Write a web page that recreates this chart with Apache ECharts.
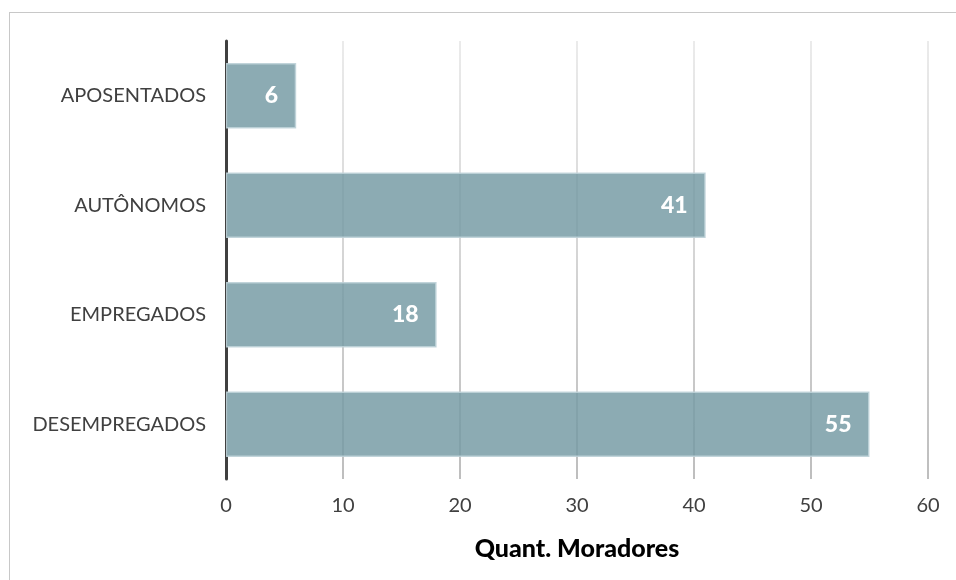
<!DOCTYPE html>
<html><head><meta charset="utf-8">
<script src="https://cdn.jsdelivr.net/npm/echarts@6/dist/echarts.min.js"></script>
<style>html,body{margin:0;padding:0;background:#fff}#c{width:956px;height:580px;position:relative}
#b{position:absolute;left:9px;top:12px;width:1000px;height:1000px;border:1.5px solid #c8c8c8;box-sizing:border-box;pointer-events:none}</style>
</head><body><div id="c"></div><div id="b"></div>
<script>
const categories = ['APOSENTADOS', 'AUTÔNOMOS', 'EMPREGADOS', 'DESEMPREGADOS'];
const values = [6, 41, 18, 55];
const xTicks = [0, 10, 20, 30, 40, 50, 60];
const xTitle = 'Quant. Moradores';

const chart = echarts.init(document.getElementById('c'));
const FONT = 'Lato, "Open Sans", sans-serif';
chart.setOption({
  animation: false,
  grid: {left: 226, right: 28, top: 41, bottom: 101, containLabel: false},
  xAxis: {
    type: 'value', min: xTicks[0], max: xTicks[xTicks.length-1], interval: 10,
    name: xTitle, nameLocation: 'middle', nameGap: 57,
    nameTextStyle: {fontFamily: FONT, fontWeight: 900, fontSize: 25, color: '#000'},
    axisLine: {show: false}, axisTick: {show: false},
    axisLabel: {fontFamily: FONT, fontSize: 20, color: '#404040', margin: 17},
    splitLine: {show: true, lineStyle: {width: 1.5, color: {type: 'linear', x: 0, y: 41, x2: 0, y2: 479, global: true,
      colorStops: [{offset: 0, color: '#e4e4e4'}, {offset: 1, color: '#a8a8a8'}]}}}
  },
  yAxis: {
    type: 'category', data: categories, inverse: true,
    axisLine: {show: true, lineStyle: {color: '#404040', width: 3}},
    axisTick: {show: false},
    axisLabel: {fontFamily: FONT, fontSize: 20, color: '#404040', margin: 20}
  },
  series: [{
    type: 'bar', data: values, barCategoryGap: '40%',
    itemStyle: {color: 'rgba(120,156,166,0.85)', borderColor: 'rgba(190,210,216,0.9)', borderWidth: 1.5},
    label: {show: true, position: 'insideRight', distance: 18, color: '#fff', fontFamily: FONT, fontWeight: 900, fontSize: 23},
    z: 3
  }]
});
</script></body></html>
